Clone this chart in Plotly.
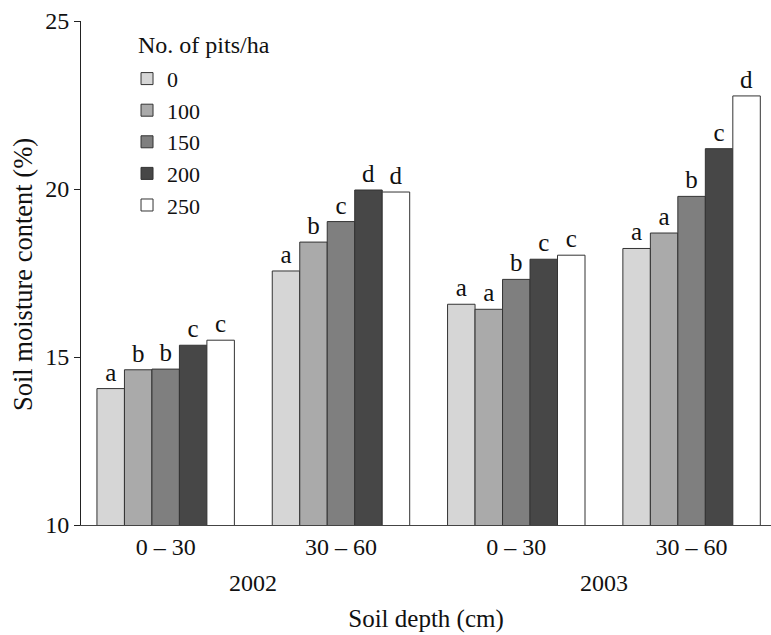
import plotly.graph_objects as go

depths = ["0 – 30", "30 – 60", "0 – 30", "30 – 60"]
years = ["2002", "2003"]
pits = ["0", "100", "150", "200", "250"]

moisture = {
    "0":   [14.06, 17.56, 16.57, 18.23],
    "100": [14.62, 18.42, 16.42, 18.69],
    "150": [14.64, 19.03, 17.31, 19.78],
    "200": [15.35, 19.97, 17.91, 21.20],
    "250": [15.50, 19.91, 18.03, 22.77],
}
letters = {
    "0":   ["a", "a", "a", "a"],
    "100": ["b", "b", "a", "a"],
    "150": ["b", "c", "b", "b"],
    "200": ["c", "d", "c", "c"],
    "250": ["c", "d", "c", "d"],
}

colors = {"0": "#d6d6d6", "100": "#aaaaaa", "150": "#7f7f7f", "200": "#474747", "250": "#ffffff"}
FONT = "Liberation Serif, Times New Roman, serif"

xpos = list(range(len(depths)))

fig = go.Figure()
for p in pits:
    fig.add_trace(go.Bar(
        x=xpos, y=moisture[p], name=p,
        marker=dict(color=colors[p], line=dict(color="#333333", width=1)),
        text=letters[p], textposition="outside", constraintext="none",
        textfont=dict(family=FONT, size=25, color="#111111"),
        cliponaxis=False,
    ))

fig.update_layout(
    width=771, height=635,
    margin=dict(l=81, r=0, t=21, b=110),
    paper_bgcolor="white", plot_bgcolor="white",
    barmode="group", bargap=0.216, bargroupgap=0,
    font=dict(family=FONT, size=24, color="#111111"),
    showlegend=True,
    legend=dict(x=0.0667, y=0.927, xanchor="left", yanchor="top",
                font=dict(family=FONT, size=22, color="#111111"),
                bgcolor="rgba(0,0,0,0)", tracegroupgap=0),
    xaxis=dict(range=[-0.483, 3.453], tickmode="array", tickvals=xpos, ticktext=depths,
               showline=True, linecolor="#444444", linewidth=1, ticks="",
               showgrid=False, zeroline=False,
               tickfont=dict(family=FONT, size=24, color="#111111"),
               title=dict(text="Soil depth (cm)", font=dict(family=FONT, size=25, color="#111111"),
                          standoff=50)),
    yaxis=dict(range=[10, 25], tickvals=[10, 15, 20, 25], ticks="outside", ticklen=6,
               tickcolor="#222222", showline=True, linecolor="#222222", linewidth=1,
               showgrid=False, zeroline=False,
               tickfont=dict(family=FONT, size=24, color="#111111")),
)

fig.add_annotation(text="Soil moisture content (%)", textangle=-90,
                   xref="paper", yref="paper", x=-0.0848, y=0.497,
                   xanchor="center", yanchor="middle", showarrow=False,
                   font=dict(family=FONT, size=26.5, color="#111111"))
fig.add_annotation(text="No. of pits/ha", xref="paper", yref="paper", x=0.0797, y=0.952,
                   xanchor="left", yanchor="middle", showarrow=False,
                   font=dict(family=FONT, size=24, color="#111111"))
for i, yr in enumerate(years):
    fig.add_annotation(text=yr, xref="x", yref="paper", x=2 * i + 0.5, y=-0.115,
                       xanchor="center", yanchor="middle", showarrow=False,
                       font=dict(family=FONT, size=24, color="#111111"))

fig.write_html("out.html")
